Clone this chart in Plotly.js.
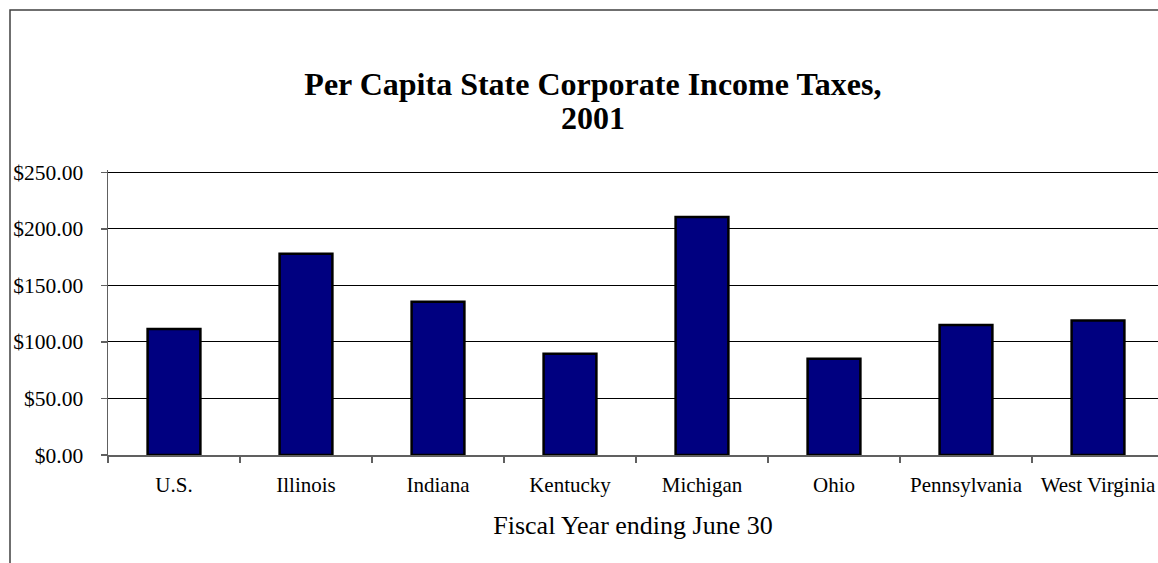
<!DOCTYPE html>
<html>
<head>
<meta charset="utf-8">
<script src="https://cdn.plot.ly/plotly-3.0.1.min.js"></script>
<style>
  html, body { margin: 0; padding: 0; background: #fff; }
  #chart { width: 1158px; height: 563px; }
</style>
</head>
<body>
<div id="chart"></div>
<script>
const categories = ["U.S.", "Illinois", "Indiana", "Kentucky", "Michigan", "Ohio", "Pennsylvania", "West Virginia"];
const values = [111.5, 178, 135.5, 89.5, 210.5, 85, 115, 119];
const yTickValues = [0, 50, 100, 150, 200, 250];
const yTickLabels = ["$0.00", "$50.00", "$100.00", "$150.00", "$200.00", "$250.00"];
const titleLine1 = "Per Capita State Corporate Income Taxes,";
const titleLine2 = "2001";
const xTitleText = "Fiscal Year ending June 30";

const serif = "Liberation Serif, Times New Roman, serif";

const trace = {
  type: "bar",
  x: categories,
  y: values,
  width: 0.4,
  marker: { color: "#000080", line: { color: "#000000", width: 2.5 } },
  hoverinfo: "x+y"
};

const plotTop = 170, plotBottom = 455;
const plotH = plotBottom - plotTop;

const layout = {
  width: 1158,
  height: 563,
  margin: { l: 108, r: 0, t: plotTop, b: 563 - plotBottom, pad: 0 },
  paper_bgcolor: "#ffffff",
  plot_bgcolor: "#ffffff",
  showlegend: false,
  font: { family: serif, color: "#000000" },
  title: {
    text: titleLine1,
    font: { family: serif, size: 32, color: "#000000", weight: "bold" },
    xref: "container", x: 0.512, xanchor: "center",
    yref: "container", y: 1 - 84 / 563, yanchor: "middle"
  },
  annotations: [
    {
      text: titleLine2,
      xref: "paper", yref: "paper",
      x: (593 - 108) / 1050, y: (plotBottom - 118) / plotH,
      xanchor: "center", yanchor: "middle",
      showarrow: false,
      font: { family: serif, size: 32, color: "#000000", weight: "bold" }
    }
  ],
  xaxis: {
    type: "category",
    range: [-0.5, -0.5 + 1050 / 132],
    showgrid: false,
    showline: true, linecolor: "#606060", linewidth: 1.5,
    ticks: "outside", tickson: "boundaries", ticklen: 6, tickcolor: "#606060", tickwidth: 1.5,
    tickfont: { family: serif, size: 21, color: "#000000" },
    ticklabelstandoff: 10,
    title: { text: xTitleText, font: { family: serif, size: 26, color: "#000000" }, standoff: 20 },
    zeroline: false,
    fixedrange: true
  },
  yaxis: {
    range: [0, 252],
    tickvals: yTickValues,
    ticktext: yTickLabels,
    showgrid: true, gridcolor: "#000000", gridwidth: 1,
    showline: true, linecolor: "#606060", linewidth: 1.5,
    ticks: "outside", ticklen: 6, tickcolor: "#606060", tickwidth: 1.5,
    tickfont: { family: serif, size: 21.5, color: "#000000" },
    ticklabelstandoff: 13,
    zeroline: false,
    fixedrange: true
  },
  shapes: [
    {
      type: "rect", xref: "paper", yref: "paper",
      x0: (10 - 108) / 1050, x1: 1.2,
      y0: -0.6, y1: (plotBottom - 10) / plotH,
      line: { color: "#404040", width: 1.5 },
      fillcolor: "rgba(0,0,0,0)",
      layer: "below"
    }
  ]
};

Plotly.newPlot("chart", [trace], layout, { displayModeBar: false, staticPlot: true });
</script>
</body>
</html>
